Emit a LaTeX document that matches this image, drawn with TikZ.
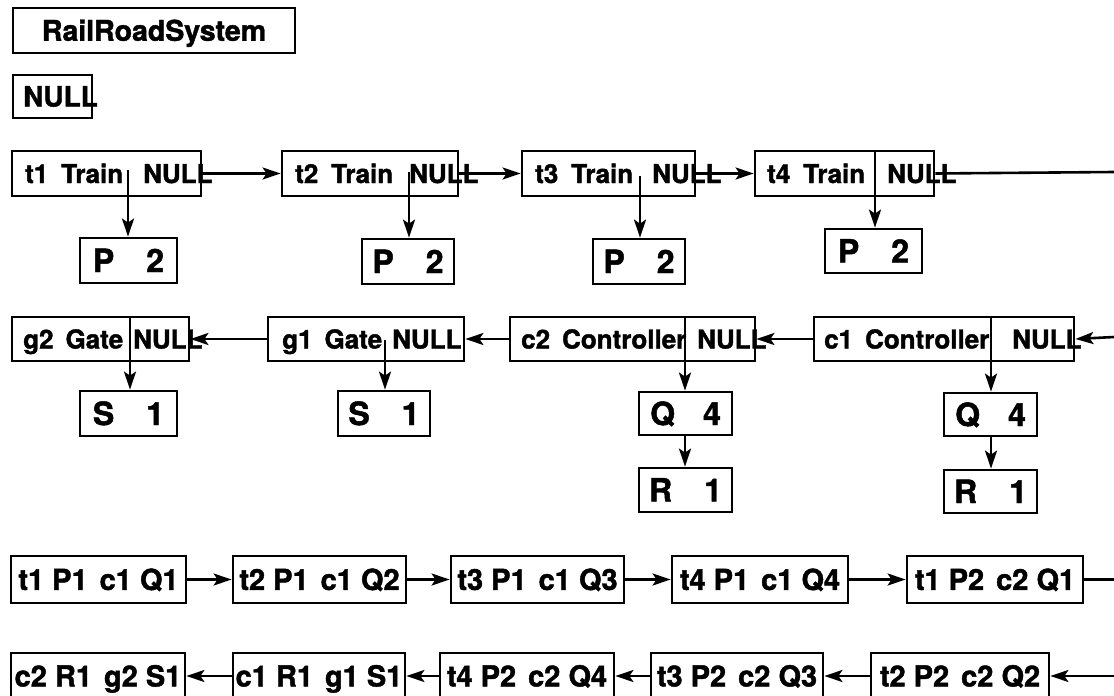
\documentclass[tikz,border=0pt]{standalone}
\usepackage{fontspec}
\setmainfont[BoldFeatures={FakeBold=1.5}]{TeX Gyre Heros}
\usetikzlibrary{arrows.meta}
\tikzset{
  box/.style={draw, line width=2.8pt, inner sep=0pt, text depth=0pt},
  ftitle/.style={font=\fontsize{28.5}{30}\selectfont\bfseries, text height=20.5pt},
  frec/.style={font=\fontsize{26}{28}\selectfont\bfseries, inner sep=0pt, anchor=base west},
  fnull/.style={font=\fontsize{28}{30}\selectfont\bfseries, inner sep=0pt, anchor=base west},
  fval/.style={font=\fontsize{32}{34}\selectfont\bfseries, text height=23pt},
  flst/.style={font=\fontsize{29}{31}\selectfont\bfseries, text height=20.9pt},
  arr/.style={line width=2.6pt, -{Stealth[length=18pt,width=12pt,inset=4pt]}},
  conn/.style={line width=2.6pt},
}
% \Bx{name}{x1}{y1}{x2}{y2}{text}{style}
\newcommand\Bx[7]{\node[box,#7,minimum width={#4-#2},minimum height={#5-#3}] (#1) at ({(#2+#4)/2},{(#3+#5)/2}) {#6};}
\begin{document}
\begin{tikzpicture}[x=1pt,y=-1pt]
\clip (0,0) rectangle (1114,696);
\fill[white] (0,0) rectangle (1114,696);

% header boxes
\Bx{sys}{13}{8}{295}{53}{RailRoadSystem}{ftitle}
\Bx{nullbox}{13}{75}{92}{118}{}{}
\node[fnull] (nulltxt) at (23,106.5) {NULL};

% ---------- row 1: trains ----------
\Bx{t1}{12}{151}{201}{196}{}{}
\node[frec] (t1a) at (25,183) {t1\hspace{13pt}Train};
\node[frec] (t1b) at (143,183) {NULL};
\Bx{t2}{282}{151}{458}{196}{}{}
\node[frec] (t2a) at (295,183) {t2\hspace{13pt}Train};
\node[frec] (t2b) at (409,183) {NULL};
\Bx{t3}{522}{151}{695}{196}{}{}
\node[frec] (t3a) at (535,183) {t3\hspace{13pt}Train};
\node[frec] (t3b) at (652,183) {NULL};
\Bx{t4}{755}{151}{934}{196}{}{}
\node[frec] (t4a) at (767,183) {t4\hspace{13pt}Train};
\node[frec] (t4b) at (887,183) {NULL};

\Bx{p1}{80}{238}{177}{283}{P\hspace{32pt}2}{fval}
\Bx{p2}{362}{239}{454}{284}{P\hspace{32pt}2}{fval}
\Bx{p3}{593}{239}{685}{284}{P\hspace{32pt}2}{fval}
\Bx{p4}{825}{229}{922}{273}{P\hspace{32pt}2}{fval}

\coordinate (t1d) at (128,170);
\coordinate (t2d) at (409,172);
\coordinate (t3d) at (640,176);
\coordinate (t4d) at (875,151);
\draw[arr] (t1d) -- (t1d |- p1.north);
\draw[arr] (t2d) -- (t2d |- p2.north);
\draw[arr] (t3d) -- (t3d |- p3.north);
\draw[arr] (t4d) -- (t4d |- p4.north);

\coordinate (r1out) at (1114,172);
\draw[arr] (t1.east) -- (t2.west);
\draw[arr] (t2.east) -- (t3.west);
\draw[arr] (t3.east) -- (t4.west);
\draw[conn] (t4.east) -- (r1out);

% ---------- row 2: gates and controllers ----------
\Bx{g2}{12}{317}{189}{361}{}{}
\node[frec] (g2a) at (23,348.5) {g2\hspace{12pt}Gate};
\node[frec] (g2b) at (133,348.5) {NULL};
\Bx{g1}{268}{317}{464}{361}{}{}
\node[frec] (g1a) at (282,348.5) {g1\hspace{12pt}Gate};
\node[frec] (g1b) at (392,348.5) {NULL};
\Bx{c2}{510}{317}{755}{361}{}{}
\node[frec] (c2a) at (521,348.5) {c2\hspace{12pt}Controller};
\node[frec] (c2b) at (697,348.5) {NULL};
\Bx{c1}{814}{317}{1074}{361}{}{}
\node[frec] (c1a) at (824,348.5) {c1\hspace{12pt}Controller};
\node[frec] (c1b) at (1012,348.5) {NULL};

\Bx{s2}{80}{391}{177}{436}{S\hspace{32pt}1}{fval}
\Bx{s1}{338}{391}{430}{436}{S\hspace{32pt}1}{fval}
\Bx{q2}{639}{392}{732}{435}{Q\hspace{28pt}4}{fval}
\Bx{r2}{639}{468}{732}{512}{R\hspace{32pt}1}{fval}
\Bx{q1}{944}{393}{1037}{436}{Q\hspace{28pt}4}{fval}
\Bx{r1}{944}{470}{1037}{513}{R\hspace{32pt}1}{fval}

\coordinate (g2d) at (130,317);
\coordinate (g1d) at (385,340);
\coordinate (c2d) at (685,317);
\coordinate (c1d) at (991,317);
\draw[arr] (g2d) -- (g2d |- s2.north);
\draw[arr] (g1d) -- (g1d |- s1.north);
\draw[arr] (c2d) -- (c2d |- q2.north);
\draw[arr] (c1d) -- (c1d |- q1.north);
\draw[arr] (q2.south -| c2d) -- (r2.north -| c2d);
\draw[arr] (q1.south -| c1d) -- (r1.north -| c1d);

\coordinate (r2in) at (1114,337);
\draw[arr] (r2in) -- (c1.east);
\draw[arr] (c1.west) -- (c2.east);
\draw[arr] (c2.west) -- (g1.east);
\draw[arr] (g1.west) -- (g2.east);

% ---------- row 3 ----------
\Bx{b1}{11}{556}{186}{603}{t1 P1\hspace{12pt}c1 Q1}{flst}
\Bx{b2}{233}{556}{406}{603}{t2 P1\hspace{12pt}c1 Q2}{flst}
\Bx{b3}{451}{556}{624}{603}{t3 P1\hspace{12pt}c1 Q3}{flst}
\Bx{b4}{672}{556}{848}{603}{t4 P1\hspace{12pt}c1 Q4}{flst}
\Bx{b5}{907}{556}{1083}{603}{t1 P2\hspace{12pt}c2 Q1}{flst}
\coordinate (r3out) at (1114,579.5);
\draw[arr] (b1.east) -- (b2.west);
\draw[arr] (b2.east) -- (b3.west);
\draw[arr] (b3.east) -- (b4.west);
\draw[arr] (b4.east) -- (b5.west);
\draw[conn] (b5.east) -- (r3out);

% ---------- row 4 ----------
\Bx{e1}{11}{653}{185}{699}{c2 R1\hspace{12pt}g2 S1}{flst}
\Bx{e2}{233}{653}{405}{699}{c1 R1\hspace{12pt}g1 S1}{flst}
\Bx{e3}{440}{653}{614}{699}{t4 P2\hspace{12pt}c2 Q4}{flst}
\Bx{e4}{651}{653}{823}{699}{t3 P2\hspace{12pt}c2 Q3}{flst}
\Bx{e5}{871}{653}{1049}{699}{t2 P2\hspace{12pt}c2 Q2}{flst}
\coordinate (r4in) at (1114,676);
\draw[arr] (r4in) -- (e5.east);
\draw[arr] (e5.west) -- (e4.east);
\draw[arr] (e4.west) -- (e3.east);
\draw[arr] (e3.west) -- (e2.east);
\draw[arr] (e2.west) -- (e1.east);
\end{tikzpicture}
\end{document}
